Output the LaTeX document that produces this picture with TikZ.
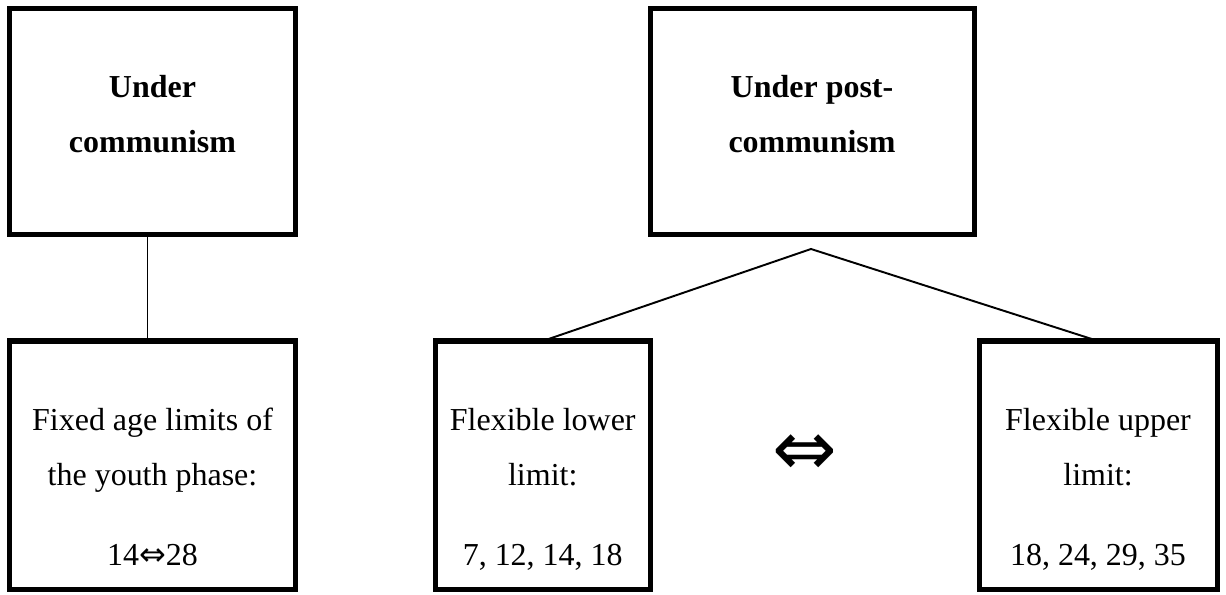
\documentclass[tikz,border=0pt]{standalone}
\usepackage{fontspec}
\setmainfont{Liberation Serif}
\newfontfamily\arrowfont{DejaVu Sans}
\usetikzlibrary{positioning}

\tikzset{
  box/.style={draw=black, line width=2.85pt, inner sep=0pt, outer sep=0pt},
  boxtext/.style={align=center, inner sep=0pt, font=\fontsize{18.2}{31.3}\selectfont},
  headtext/.style={boxtext, font=\bfseries\fontsize{18.2}{31.3}\selectfont},
  link/.style={line width=1.1pt}
}

\begin{document}
\begin{tikzpicture}
        \useasboundingbox (0,0) rectangle (24.52,-11.90);
        % the two periods
        \node[box, minimum width=5.72cm, minimum height=4.52cm] (commbox) at ( 3.05,-2.43) {};
        \node[box, minimum width=6.48cm, minimum height=4.52cm] (postbox) at (16.24,-2.43) {};
        % age limits below them
        \node[box, minimum width=5.72cm, minimum height=4.96cm] (fixbox)  at ( 3.05,-9.30) {};
        \node[box, minimum width=4.29cm, minimum height=4.96cm] (lowbox)  at (10.855,-9.30) {};
        \node[box, minimum width=4.76cm, minimum height=4.96cm] (upbox)   at (21.96,-9.30) {};
        \coordinate (apex) at (16.22,-4.98);

        \node[headtext, below=1.33cm of commbox.north] (commtext) {Under\\communism};
        \node[headtext, below=1.33cm of postbox.north] (posttext) {Under post-\\communism};
        \node[boxtext,  below=1.34cm of fixbox.north]  (fixtext)  {Fixed age limits of\\the youth phase:\\[0.5cm]14{\arrowfont ⇔}28};
        \node[boxtext,  below=1.34cm of lowbox.north]  (lowtext)  {Flexible lower\\limit:\\[0.5cm]7, 12, 14, 18};
        \node[boxtext,  below=1.34cm of upbox.north]   (uptext)   {Flexible upper\\limit:\\[0.5cm]18, 24, 29, 35};
        \node[inner sep=0pt, font=\arrowfont\fontsize{44}{44}\selectfont] (swing) at (16.1,-9.10) {⇔};

        \draw[link] ([xshift=-0.1cm]commbox.south) -- ([xshift=-0.1cm]fixbox.north);
        \draw[link] (lowbox.north) -- (apex) -- (upbox.north);
\end{tikzpicture}
\end{document}
